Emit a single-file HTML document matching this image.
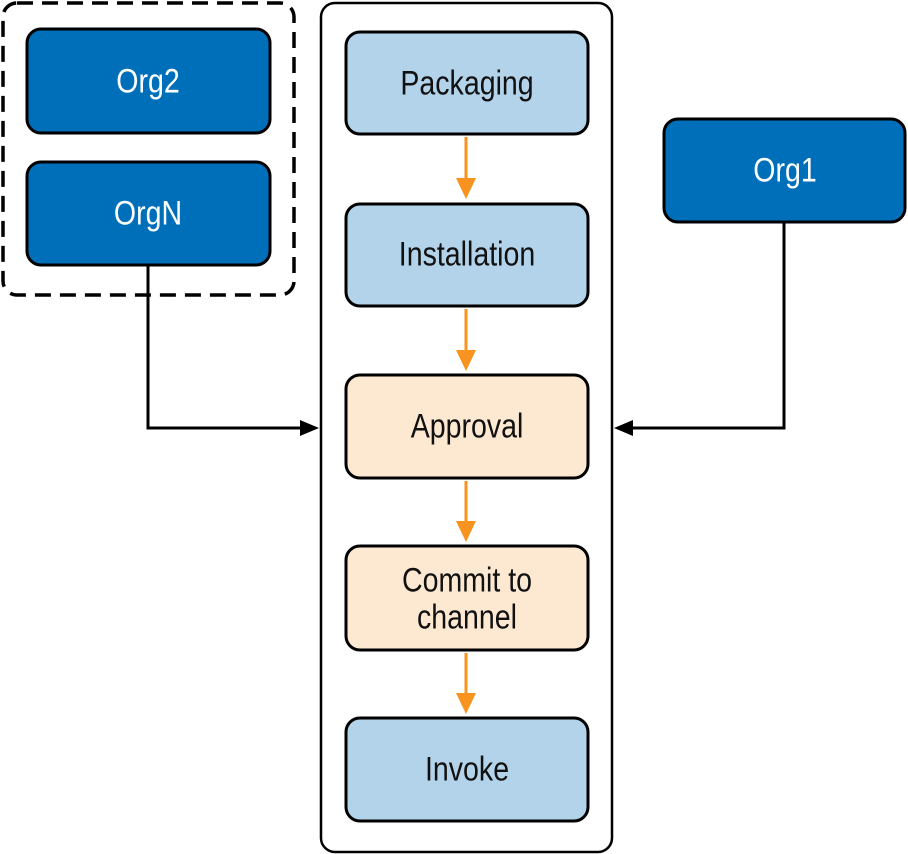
<!DOCTYPE html>
<html><head><meta charset="utf-8"><style>
html,body{margin:0;padding:0;background:#fff;}
svg{display:block;}
text{font-family:"Liberation Sans",sans-serif;font-size:34px;text-anchor:middle;dominant-baseline:central;}
</style></head><body>
<svg width="908" height="854" viewBox="0 0 908 854" xmlns="http://www.w3.org/2000/svg">
<rect x="3" y="3" width="291" height="292" rx="14" fill="none" stroke="#000" stroke-width="3.5" stroke-dasharray="16,9"/>
<rect x="321" y="3" width="291" height="849" rx="14" fill="none" stroke="#000" stroke-width="2.5"/>
<g stroke="#000" stroke-width="3">
<rect x="27" y="29" width="243" height="104" rx="14" fill="#006fba"/>
<rect x="27" y="162" width="243" height="103" rx="14" fill="#006fba"/>
<rect x="664" y="119" width="241" height="103" rx="14" fill="#006fba"/>
<rect x="346" y="32" width="242" height="102" rx="14" fill="#b2d3ea"/>
<rect x="346" y="204" width="242" height="102" rx="14" fill="#b2d3ea"/>
<rect x="346" y="375" width="242" height="103" rx="14" fill="#fde8d2"/>
<rect x="346" y="546" width="242" height="104" rx="14" fill="#fde8d2"/>
<rect x="346" y="718" width="242" height="103" rx="14" fill="#b2d3ea"/>
</g>
<g transform="scale(0.84,1)">
<g fill="#fff">
<text x="176.2" y="81">Org2</text>
<text x="176.2" y="213">OrgN</text>
<text x="934.5" y="170">Org1</text>
</g>
<g fill="#111">
<text x="556" y="83">Packaging</text>
<text x="556" y="254">Installation</text>
<text x="556" y="426">Approval</text>
<text x="556" y="580">Commit to</text>
<text x="556" y="617">channel</text>
<text x="556" y="769">Invoke</text>
</g>
</g>
<g stroke="#f7931e" stroke-width="3" fill="none">
<line x1="466" y1="137" x2="466" y2="178"/>
<line x1="466" y1="309" x2="466" y2="350"/>
<line x1="466" y1="481" x2="466" y2="521"/>
<line x1="466" y1="653" x2="466" y2="693"/>
</g>
<g fill="#f7931e">
<path d="M456,178 L476,178 L466,199z"/>
<path d="M456,350 L476,350 L466,371z"/>
<path d="M456,521 L476,521 L466,542z"/>
<path d="M456,693 L476,693 L466,714z"/>
</g>
<g stroke="#000" stroke-width="3" fill="none">
<polyline points="148,266 148,428 302,428"/>
<polyline points="784,223 784,428 632,428"/>
</g>
<path d="M300,420 L319,428 L300,436z" fill="#000"/>
<path d="M633,420 L614,428 L633,436z" fill="#000"/>
</svg>
</body></html>
